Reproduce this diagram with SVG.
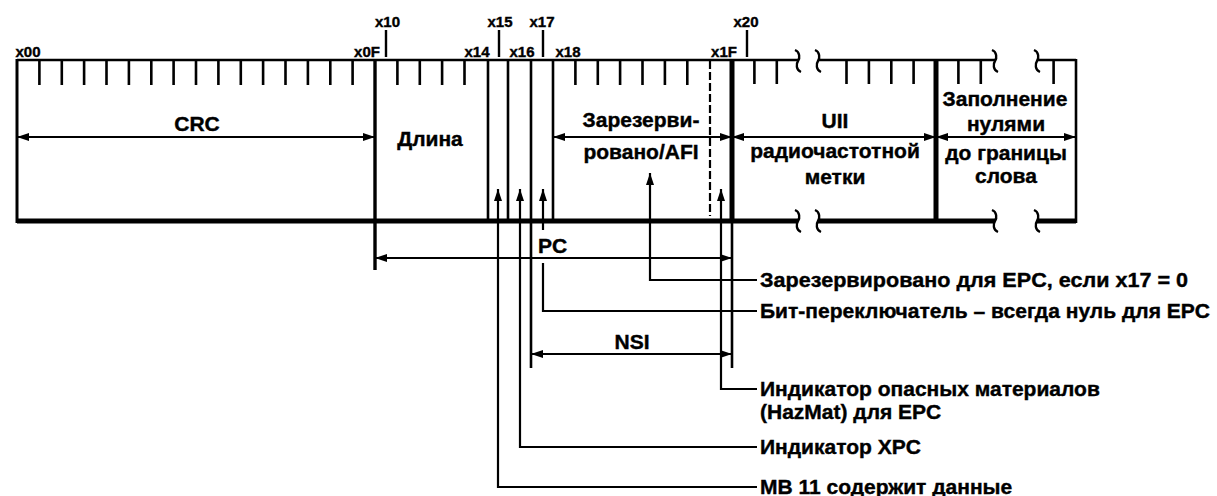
<svg xmlns="http://www.w3.org/2000/svg" width="1217" height="496" viewBox="0 0 1217 496">
<style>
.ln{fill:none;stroke:#000;stroke-linecap:butt}
.tk{fill:none;stroke:#000;stroke-width:2.6}
.dim{fill:none;stroke:#000;stroke-width:2;marker-start:url(#ah);marker-end:url(#ah)}
.ld{fill:none;stroke:#000;stroke-width:2.2}
.up{marker-start:url(#ah)}
.t{font-family:"Liberation Sans",Arial,sans-serif;font-weight:bold;font-size:21px;fill:#000;stroke:#000;stroke-width:0.4}
.c{text-anchor:middle}
.s{font-size:15px}
.r{font-size:21px}
</style>
<defs>
<marker id="ah" viewBox="0 0 12 8" refX="12" refY="4" markerWidth="12" markerHeight="8" markerUnits="userSpaceOnUse" orient="auto-start-reverse"><path d="M0,0 L12,4 L0,8 z" fill="#000"/></marker>
<path id="br" d="M -3,-11 C 2,-9 2,-3 0,0 C -2,3 -2,9 3,11" fill="none" stroke="#000" stroke-width="2.4"/>
</defs>
<rect width="1217" height="496" fill="#fff"/>

<g id="frame">
  <path class="ln" stroke-width="2.6" d="M17,60 H798 M818,60 H995 M1037,60 H1076"/>
  <path class="ln" stroke-width="5" d="M17,221 H798 M818,221 H995 M1037,221 H1076"/>
  <path class="ln" stroke-width="3" d="M17,59 V223"/>
  <path class="ln" stroke-width="2.6" d="M1076,59 V223"/>
  <use href="#br" x="798" y="61"/><use href="#br" x="818" y="61"/>
  <use href="#br" x="995" y="61"/><use href="#br" x="1037" y="61"/>
  <use href="#br" x="798" y="221"/><use href="#br" x="818" y="221"/>
  <use href="#br" x="995" y="221"/><use href="#br" x="1037" y="221"/>
  <path class="tk" d="M39.4,60V85 M61.8,60V85 M84.1,60V85 M106.5,60V85 M128.9,60V85 M151.3,60V85 M173.6,60V85 M196,60V85 M218.4,60V85 M240.8,60V85 M263.1,60V85 M285.5,60V85 M307.9,60V85 M330.3,60V85 M352.6,60V85 M397.4,60V85 M419.8,60V85 M442.1,60V85 M464.5,60V85 M575.4,60V85 M597.8,60V85 M620.1,60V85 M642.5,60V85 M664.9,60V85 M687.3,60V85 M754.4,60V84 M776.8,60V84 M846.5,60V84 M868.9,60V84 M891.3,60V84 M913.6,60V84 M958.4,60V84 M980.8,60V84 M1053.6,60V84"/>
  <path class="ln" stroke-width="3.4" d="M375,60 V270"/>
  <path class="ln" stroke-width="2.6" d="M488,60 V221 M508,60 V221 M553,60 V221"/>
  <path class="ln" stroke-width="2.6" d="M531,60 V368"/>
  <path class="ln" stroke-width="2.2" stroke-dasharray="8 3" d="M710,61 V216"/>
  <path class="ln" stroke-width="5" d="M732,60 V221 M936,60 V221"/>
  <path class="ln" stroke-width="2.6" d="M732,221 V368"/>
  <path class="ln" stroke-width="2.4" d="M386,30 V57 M499,30 V57 M543,30 V57 M747,30 V57"/>
</g>

<g id="bit-labels">
  <text class="t s c" x="28" y="57">x00</text>
  <text class="t s c" x="367" y="57">x0F</text>
  <text class="t s c" x="387.5" y="27">x10</text>
  <text class="t s c" x="477" y="57">x14</text>
  <text class="t s c" x="500" y="27">x15</text>
  <text class="t s c" x="522" y="57">x16</text>
  <text class="t s c" x="542" y="27">x17</text>
  <text class="t s c" x="568" y="57">x18</text>
  <text class="t s c" x="724" y="57">x1F</text>
  <text class="t s c" x="746" y="27">x20</text>
</g>

<g id="crc"><text class="t c" x="197" y="131">CRC</text></g>
<g id="length"><text class="t c" x="430" y="146">Длина</text></g>
<g id="afi">
  <text class="t c" x="641" y="127">Зарезерви-</text>
  <text class="t c" x="641" y="159">ровано/AFI</text>
</g>
<g id="uii">
  <text class="t c" x="835" y="128">UII</text>
  <text class="t c" x="835" y="158">радиочастотной</text>
  <text class="t c" x="835" y="184">метки</text>
</g>
<g id="fill">
  <text class="t c" x="1005" y="106">Заполнение</text>
  <text class="t c" x="1006" y="131">нулями</text>
  <text class="t c" x="1006" y="160">до границы</text>
  <text class="t c" x="1006" y="183">слова</text>
</g>
<g id="pc"><text class="t" x="538" y="253">PC</text></g>
<g id="nsi"><text class="t c" x="632" y="349">NSI</text></g>

<g id="connectors">
  <path class="dim" d="M17,137 H375"/>
  <path class="dim" d="M553,137 H732"/>
  <path class="dim" d="M732,137 H936"/>
  <path class="dim" d="M936,137 H1076"/>
  <path class="dim" d="M375,258 H732"/>
  <path class="dim" d="M531,354 H732"/>
  <path class="ld up" d="M498,189 V487 H757"/>
  <path class="ld up" d="M520,189 V447 H757"/>
  <path class="ld up" d="M543,189 V230"/>
  <path class="ld" d="M543,263 V311 H757"/>
  <path class="ld up" d="M650,173 V280 H757"/>
  <path class="ld up" d="M721,189 V389 H757"/>
</g>

<g id="note-reserved"><text class="t r" x="760" y="287" textLength="428" lengthAdjust="spacingAndGlyphs">Зарезервировано для EPC, если x17 = 0</text></g>
<g id="note-toggle"><text class="t r" x="760" y="318" textLength="450" lengthAdjust="spacingAndGlyphs">Бит-переключатель – всегда нуль для EPC</text></g>
<g id="note-hazmat">
  <text class="t r" x="760" y="396">Индикатор опасных материалов</text>
  <text class="t r" x="760" y="419">(HazMat) для EPC</text>
</g>
<g id="note-xpc"><text class="t r" x="760" y="454">Индикатор XPC</text></g>
<g id="note-mb11"><text class="t r" x="760" y="494">MB 11 содержит данные</text></g>
</svg>
